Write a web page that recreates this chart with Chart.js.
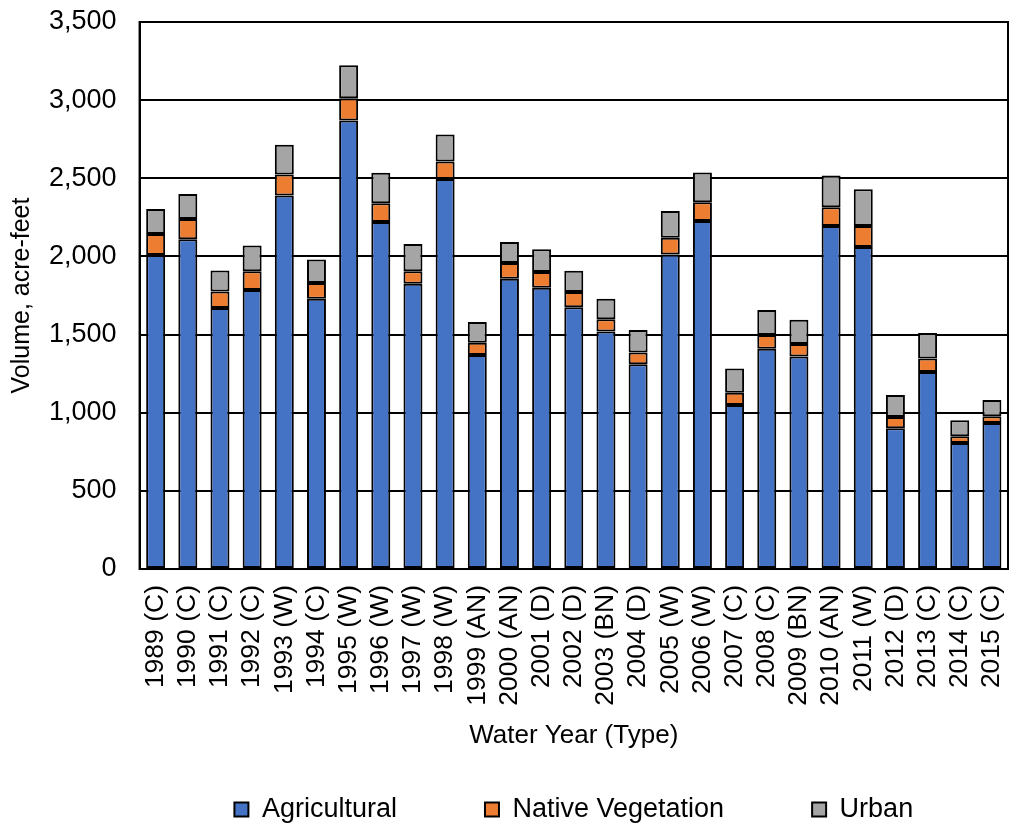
<!DOCTYPE html>
<html>
<head>
<meta charset="utf-8">
<script src="https://cdn.jsdelivr.net/npm/chart.js@4"></script>
<style>
  html, body { margin: 0; padding: 0; background: #fff; }
  #wrap { width: 1013px; height: 825px; }
</style>
</head>
<body>
<div id="wrap"><canvas id="waterChart"></canvas></div>
<script>
// Water years with their type
const years = ['1989 (C)', '1990 (C)', '1991 (C)', '1992 (C)', '1993 (W)', '1994 (C)', '1995 (W)',
    '1996 (W)', '1997 (W)', '1998 (W)', '1999 (AN)', '2000 (AN)', '2001 (D)', '2002 (D)', '2003 (BN)',
    '2004 (D)', '2005 (W)', '2006 (W)', '2007 (C)', '2008 (C)', '2009 (BN)', '2010 (AN)', '2011 (W)',
    '2012 (D)', '2013 (C)', '2014 (C)', '2015 (C)'];

// Volumes in acre-feet
const agricultural = [2010, 2110, 1670, 1785, 2390, 1730, 2870, 2220, 1825, 2495, 1370, 1858, 1800, 1675,
    1520, 1310, 2012, 2227, 1050, 1410, 1360, 2195, 2060, 900, 1260, 806, 935];
const nativeVegetation = [133, 130, 105, 120, 135, 100, 142, 120, 80, 113, 77, 100, 100, 97,
    78, 75, 107, 120, 78, 87, 80, 120, 135, 73, 87, 43, 43];
const urban = [160, 160, 135, 165, 190, 150, 212, 195, 175, 172, 133, 135, 146, 137,
    131, 145, 172, 190, 155, 160, 155, 203, 235, 140, 163, 103, 103];

const yTicks = [0, 500, 1000, 1500, 2000, 2500, 3000, 3500];

const FONT = 'Liberation Sans, Arial, sans-serif';

// Draw the black frame around the plot area
const frame = {
    id: 'frame',
    afterDraw(chart) {
        const a = chart.chartArea;
        const ctx = chart.ctx;
        ctx.save();
        ctx.strokeStyle = '#000';
        ctx.lineWidth = 2;
        ctx.strokeRect(a.left, a.top, a.right - a.left, a.bottom - a.top);
        ctx.restore();
    }
};

function series(label, data, color) {
    return {
        label: label,
        data: data,
        backgroundColor: color,
        borderColor: '#000',
        borderWidth: 2,
        borderSkipped: false,
        barPercentage: 0.59,
        categoryPercentage: 1.0
    };
}

const ctx = document.getElementById('waterChart').getContext('2d');
new Chart(ctx, {
    type: 'bar',
    data: {
        labels: years,
        datasets: [
            series('Agricultural', agricultural, '#4472C4'),
            series('Native Vegetation', nativeVegetation, '#ED7D31'),
            series('Urban', urban, '#A5A5A5')
        ]
    },
    options: {
        responsive: true,
        maintainAspectRatio: false,
        animation: false,
        layout: { padding: { left: 7, right: 5, top: 22, bottom: -8 } },
        plugins: {
            tooltip: { enabled: false },
            legend: {
                position: 'bottom',
                fullSize: false,
                labels: {
                    color: '#000',
                    font: { family: FONT, size: 27 },
                    boxWidth: 14,
                    boxHeight: 14,
                    padding: 88,
                    generateLabels(chart) {
                        return chart.data.datasets.map((ds, i) => ({
                            text: ds.label,
                            fillStyle: ds.backgroundColor,
                            strokeStyle: '#000',
                            lineWidth: 2,
                            datasetIndex: i
                        }));
                    }
                }
            }
        },
        scales: {
            x: {
                stacked: true,
                // invisible tick marks give the gap under the axis
                grid: { display: false, drawTicks: true, tickLength: 27, tickColor: 'rgba(0,0,0,0)' },
                border: { display: true, color: '#000', width: 2 },
                ticks: {
                    color: '#000',
                    font: { family: FONT, size: 26.5 },
                    minRotation: 90,
                    maxRotation: 90,
                    autoSkip: false,
                    padding: -11
                },
                title: {
                    display: true,
                    text: 'Water Year (Type)',
                    color: '#000',
                    font: { family: FONT, size: 26 },
                    padding: { top: 25, bottom: -43 }
                }
            },
            y: {
                stacked: true,
                min: 0,
                max: 3500,
                afterBuildTicks(axis) {
                    axis.ticks = yTicks.map(v => ({ value: v }));
                },
                grid: { color: '#000', lineWidth: 2, drawTicks: true, tickLength: 20, tickColor: 'rgba(0,0,0,0)' },
                border: { display: true, color: '#000', width: 2 },
                ticks: {
                    color: '#000',
                    font: { family: FONT, size: 27 },
                    padding: 3,
                    callback: v => v.toLocaleString('en-US')
                },
                title: {
                    display: true,
                    text: 'Volume, acre-feet',
                    color: '#000',
                    font: { family: FONT, size: 25 },
                    padding: { top: 0, bottom: 9 }
                }
            }
        }
    },
    plugins: [frame]
});
</script>
</body>
</html>
